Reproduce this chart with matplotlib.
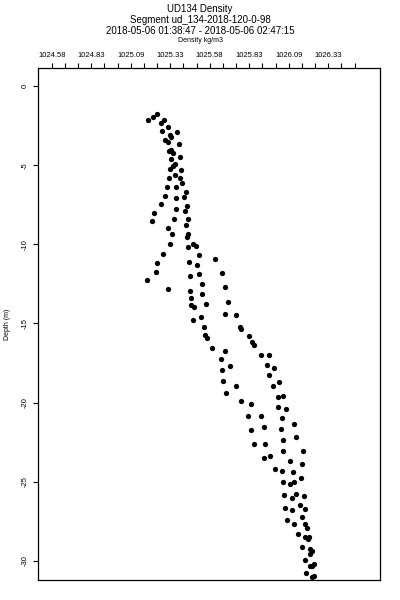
import numpy as np
import matplotlib
matplotlib.use('Agg')
import matplotlib.pyplot as plt

plt.rcParams['font.family'] = ['Liberation Sans', 'DejaVu Sans']

# ── data: density (kg/m3) vs depth (m) ──
density = [
    1025.191, 1025.219, 1025.245, 1025.272, 1025.293, 1025.318, 1025.280, 1025.329,
    1025.335, 1025.373, 1025.299, 1025.314, 1025.388, 1025.324, 1025.337, 1025.350,
    1025.394, 1025.337, 1025.360, 1025.350, 1025.331, 1025.396, 1025.362, 1025.322,
    1025.392, 1025.403, 1025.312, 1025.365, 1025.430, 1025.299, 1025.365, 1025.415,
    1025.434, 1025.272, 1025.365, 1025.426, 1025.229, 1025.213, 1025.356, 1025.443,
    1025.430, 1025.318, 1025.343, 1025.445, 1025.436, 1025.329, 1025.286, 1025.248,
    1025.240, 1025.185, 1025.318,
    1025.472, 1025.491, 1025.445, 1025.514, 1025.615, 1025.451, 1025.502, 1025.660,
    1025.453, 1025.512, 1025.531, 1025.675, 1025.457, 1025.533, 1025.464, 1025.698,
    1025.464, 1025.479, 1025.557, 1025.476, 1025.525, 1025.675, 1025.745, 1025.772,
    1025.780, 1025.544, 1025.550, 1025.561, 1025.827, 1025.846, 1025.862, 1025.596,
    1025.679, 1025.907, 1025.957, 1025.653, 1025.709, 1025.941, 1025.987, 1025.660,
    1025.955, 1025.662, 1026.017, 1025.745, 1025.979, 1025.683, 1026.012, 1026.042,
    1025.780, 1025.841, 1026.010, 1026.061, 1025.905, 1025.822, 1026.036,
    1025.841, 1025.924, 1026.033, 1026.115, 1025.860, 1025.932, 1026.046, 1026.124,
    1026.046, 1026.169, 1025.924, 1025.960, 1026.088, 1026.166, 1025.995, 1026.039,
    1026.107, 1026.160, 1026.042, 1026.088, 1026.114, 1026.048, 1026.103, 1026.124,
    1026.177, 1026.055, 1026.103, 1026.152, 1026.185, 1026.162, 1026.067, 1026.115,
    1026.183, 1026.194, 1026.137, 1026.185, 1026.200, 1026.210, 1026.166, 1026.213,
    1026.227, 1026.215, 1026.181, 1026.217, 1026.240, 1026.227, 1026.191, 1026.229,
    1026.238,
]
depth = [
    -2.15, -1.98, -1.79, -2.32, -2.15, -2.57, -2.84, -3.08,
    -3.20, -2.92, -3.41, -3.54, -3.68, -4.11, -4.04, -4.21,
    -4.47, -4.59, -4.93, -5.05, -5.22, -5.33, -5.64, -5.79,
    -5.81, -6.11, -6.36, -6.38, -6.68, -6.93, -7.08, -7.03,
    -7.56, -7.47, -7.75, -7.90, -8.00, -8.53, -8.42, -8.40,
    -8.80, -8.99, -9.35, -9.35, -9.56, -9.96, -10.59, -11.16,
    -11.73, -12.26, -12.82,
    -9.98, -10.11, -10.19, -10.69, -10.91, -11.14, -11.29, -11.81,
    -12.00, -11.90, -12.53, -12.72, -12.95, -13.14, -13.37, -13.65,
    -13.82, -13.98, -13.79, -14.76, -14.61, -14.42, -14.49, -15.21,
    -15.35, -15.24, -15.73, -15.90, -15.79, -16.15, -16.36, -16.53,
    -16.72, -16.99, -16.99, -17.23, -17.69, -17.62, -17.81, -17.92,
    -18.26, -18.65, -18.70, -18.95, -18.95, -19.37, -19.63, -19.56,
    -19.92, -20.07, -20.28, -20.42, -20.83, -20.85, -20.99,
    -21.75, -21.56, -21.65, -21.35, -22.62, -22.60, -22.34, -22.19,
    -23.04, -23.06, -23.48, -23.35, -23.71, -23.88, -24.21, -24.32,
    -24.38, -24.74, -25.02, -25.14, -25.03, -25.86, -26.01, -25.76,
    -25.90, -26.64, -26.80, -26.47, -26.74, -27.21, -27.42, -27.67,
    -27.65, -27.90, -28.28, -28.49, -28.62, -28.51, -29.10, -29.27,
    -29.36, -29.58, -29.92, -30.32, -30.20, -30.30, -30.76, -31.00,
    -30.95,
]

x_ticks = [1024.58, 1024.83, 1025.08, 1025.33, 1025.58, 1025.83, 1026.08, 1026.33]
x_tick_labels = ['1024.58', '1024.83', '1025.09', '1025.33', '1025.58', '1025.83', '1026.09', '1026.33']
y_ticks = [0, -5, -10, -15, -20, -25, -30]

# ── figure ──
fig = plt.figure(figsize=(4, 6), dpi=100, facecolor='white')
ax = fig.add_axes([0.0958, 0.0333, 0.8542, 0.8534])

ax.plot(density, depth, linestyle='none', marker='o', markersize=3.8,
        color='black', markeredgewidth=0)

ax.set_xlim(1024.495, 1026.658)
ax.set_ylim(-31.21, 1.137)

# top axis ticks
ax.xaxis.tick_top()
ax.set_xticks(x_ticks)
ax.set_xticklabels(x_tick_labels, fontsize=5.5)
ax.set_xticks(1024.58 + np.arange(24) / 12, minor=True)
ax.tick_params(axis='x', which='both', direction='out', length=3.8, width=0.8,
               pad=2.5, top=True, bottom=False)

ax.set_yticks(y_ticks)
ax.set_yticklabels([str(v) for v in y_ticks], fontsize=5.5, rotation=90, va='center')
ax.tick_params(axis='y', direction='out', length=3.8, width=0.8, pad=3)

for sp in ax.spines.values():
    sp.set_linewidth(0.9)

ax.set_ylabel('Depth (m)', fontsize=5, labelpad=8)

# ── titles ──
fig.text(0.5, 1 - 9 / 600, 'UD134 Density', ha='center', va='center', fontsize=7)
fig.text(0.5, 1 - 20 / 600, 'Segment ud_134-2018-120-0-98', ha='center', va='center', fontsize=7)
fig.text(0.5, 1 - 31 / 600, '2018-05-06 01:38:47 - 2018-05-06 02:47:15',
         ha='center', va='center', fontsize=7)
fig.text(0.5, 1 - 40 / 600, 'Density kg/m3', ha='center', va='center', fontsize=5)

fig.savefig('out.png', dpi=100, facecolor='white')
plt.close('all')
